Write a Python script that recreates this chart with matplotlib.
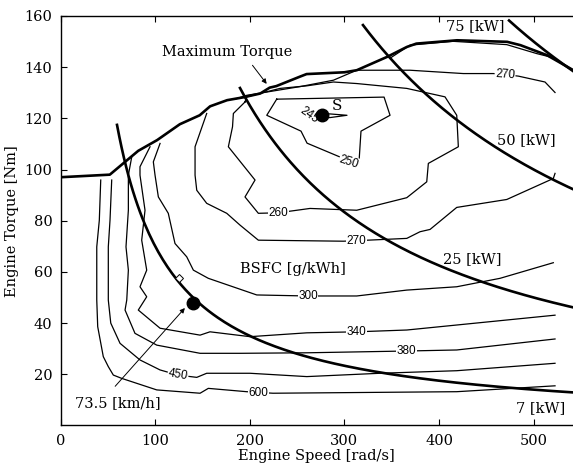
import matplotlib
matplotlib.use("Agg")
import matplotlib.pyplot as plt
import numpy as np

plt.rcParams['font.family'] = 'DejaVu Serif'
plt.rcParams['font.size'] = 10.5

# ============== DATA (speed in rad/s, torque in Nm) ==============

# maximum torque curve
maxT_w = [0, 52, 82, 102, 126, 147, 158, 176, 193, 211, 221, 228, 253, 260, 300, 313,
          345, 366, 376, 419, 472, 486, 514, 542]
maxT_T = [97, 98, 107.3, 111.5, 117.7, 121.2, 124.7, 127.1, 128.2, 129.7, 132.0, 132.6,
          136.3, 137.3, 138.0, 138.8, 144, 147.9, 149.2, 150.5, 149.9, 148.6, 144.7, 138.8]

# constant power lines: power [kW] and the speed where each line enters the plot
power_kW = [7, 25, 50, 75]
power_w_start = [59.6, 189.6, 319.6, 474]
power_labels = ['7 [kW]', '25 [kW]', '50 [kW]', '75 [kW]']
power_label_pos = [(507.8, 6.7), (434.6, 64.9), (492.7, 111.5), (438, 156)]

# BSFC contour lines [g/kWh]
c600_w = [42.4, 40.9, 38.2, 38.2, 39.2, 45.1, 50.4, 55.7, 64.6, 101.6, 147.4, 156.1, 196.7, 224.5, 418.7, 522.6]
c600_T = [95.9, 80.2, 69.8, 49, 38.6, 26.9, 23, 19.7, 18.4, 13.9, 12.6, 14.5, 13.2, 12.6, 13.2, 15.5]

c450_w = [54.0, 52.2, 50.4, 50.4, 53, 62.8, 83.9, 105.1, 124.1, 143.9, 154.4, 200.2, 260.2, 337.6, 418.7, 522.6]
c450_T = [95.9, 80.2, 69.8, 49, 40, 32.1, 25.6, 21.7, 19.7, 18.8, 20.4, 20.4, 19.1, 20.4, 21.4, 24.3]

c380_w = [75.2, 71.6, 71.6, 69.1, 71.6, 69.9, 68.1, 78.6, 101.6, 147.4, 189.6, 260.2, 365.9, 418.7, 522.6]
c380_T = [105, 97.8, 84.1, 69.8, 60.7, 49, 45.1, 36, 31.4, 28.2, 28.2, 28.4, 29.1, 29.5, 33.8]

c340_w = [94.5, 83.9, 83.9, 89.2, 85.7, 91, 83.9, 91, 82.1, 105.1, 147.4, 157.9, 200.2, 260.2, 313, 365.9, 522.6]
c340_T = [108.9, 101.1, 97.8, 84.1, 72.4, 60.7, 54.2, 50.3, 45.1, 38, 35.3, 36.6, 34.7, 36.2, 36.6, 37.3, 43.1]

c300_w = [105.1, 98, 99.8, 103.3, 113.8, 120.9, 133.3, 140.3, 156.1, 207.3, 260.2, 313, 365.9, 418.7, 464.5, 520.8]
c300_T = [110.2, 103, 97.8, 89.3, 82.9, 71.1, 65.9, 60.7, 57.5, 51, 50.6, 50.6, 52.9, 54.2, 57.5, 63.6]

c270a_w = [154.4, 142.1, 142.1, 143.9, 154.4, 175.6, 189.6, 209, 298.8, 313, 365.9, 379.9, 390.5, 418.7, 471.6, 520.8, 522.6]
c270a_T = [121.9, 108.9, 97.8, 91.9, 86.8, 82.9, 78.3, 72.4, 72, 72.2, 73.1, 75.7, 76.6, 85.2, 88.3, 96.5, 98.5]

c270b_w = [184.4, 196.7, 253.1, 288.3, 313, 369.3, 425.7, 457.4, 469.8, 483.8, 512, 522.6]
c270b_T = [127.5, 129, 132.4, 134.9, 138.8, 138.8, 137.5, 137.5, 137.1, 136.5, 134.2, 130.1]

c265_w = [348.2, 369.3, 414.8, 471.6, 503.3, 517.3]
c265_T = [143.5, 148.6, 150.1, 148.8, 145.3, 144]

c260_w = [194.9, 182.6, 181.7, 177.3, 205.5, 194.9, 209, 230.1, 263.6, 313, 365.9, 387, 388.7, 420.4,
          418.7, 406.3, 365.9, 313, 288.3, 260.2, 231.9, 196.7, 194.9]
c260_T = [126.4, 121.9, 116.7, 108.9, 95.9, 89.3, 82.9, 83.1, 84.8, 84.1, 89, 95.2, 102.4, 108.9,
          121.2, 128.4, 131.7, 133.6, 134.2, 132.7, 131.7, 128.4, 126.4]

c250_w = [228.4, 341.9, 348.2, 317.5, 315.4, 304.9, 295.3, 260.5, 254.1, 217.9, 228.4]
c250_T = [127.5, 128.3, 121.2, 115, 102.9, 102.9, 104.9, 110.3, 115, 121.2, 127.5]

c245_w = [258.3, 302.7, 284.8, 263.6, 258.3]
c245_T = [122.5, 121.2, 120.3, 120.1, 122.5]

contours = [(c600_w, c600_T), (c450_w, c450_T), (c380_w, c380_T), (c340_w, c340_T),
            (c300_w, c300_T), (c270a_w, c270a_T), (c270b_w, c270b_T), (c265_w, c265_T),
            (c260_w, c260_T), (c250_w, c250_T), (c245_w, c245_T)]

# contour labels: text, speed, torque, rotation
clabels = [('600', 208.7, 12.8, 0), ('450', 124.1, 19.9, -10), ('380', 365.9, 29.1, 0),
           ('340', 313, 36.6, 0), ('300', 261.5, 50.6, 0), ('270', 313, 72.2, 0),
           ('270', 469.8, 137.2, -4), ('260', 230.1, 83.1, 0), ('250', 304.9, 102.9, -18),
           ('245', 262.5, 121.3, -35)]

# operating points
S_point = (276, 121.2)
cruise_point = (139.6, 47.9)
diamond_point = (125.5, 57.5)

# ============== PLOT ==============

fig = plt.figure(figsize=(5.73, 4.67), dpi=100)
ax = fig.add_axes([0.1058, 0.0889, 0.8942, 0.8769])

for cw, cT in contours:
    ax.plot(cw, cT, color='k', lw=0.9, zorder=2)

for txt, lw_, lT, rot in clabels:
    ax.text(lw_, lT, txt, family='Liberation Sans', fontsize=8.5, ha='center', va='center',
            rotation=rot, zorder=3,
            bbox=dict(fc='white', ec='none', pad=0.4))

ax.plot(maxT_w, maxT_T, color='k', lw=1.9, zorder=4)

xmax = 541.6
for P, w0, lab, pos in zip(power_kW, power_w_start, power_labels, power_label_pos):
    w = np.linspace(w0, xmax, 200)
    # constant power line: torque = power / speed
    ax.plot(w, P * 1000 / w, color='k', lw=1.9, zorder=4)
    ax.text(pos[0], pos[1], lab, ha='center', va='center')

ax.plot(*S_point, 'o', color='k', ms=9, zorder=5)
ax.text(291.9, 125, 'S', ha='center', va='center', fontsize=11)
ax.plot(*cruise_point, 'o', color='k', ms=9, zorder=5)
ax.plot(*diamond_point, 'D', mfc='white', mec='k', ms=4, mew=0.7, zorder=5)

ax.annotate('', xy=(219.6, 132.6), xytext=(201, 141.6),
            arrowprops=dict(arrowstyle='-|>', color='k', lw=0.7, mutation_scale=7))
ax.text(176.4, 145.8, 'Maximum Torque', ha='center', va='center')

ax.annotate('', xy=(133.3, 46.7), xytext=(55.7, 14.5),
            arrowprops=dict(arrowstyle='-|>', color='k', lw=0.7, mutation_scale=7))
ax.text(60.7, 8.7, '73.5 [km/h]', ha='center', va='center')

ax.text(246, 61, 'BSFC [g/kWh]', ha='center', va='center')

ax.set_xlim(0, xmax)
ax.set_ylim(0, 160)
ax.set_xticks([0, 100, 200, 300, 400, 500])
ax.set_yticks([20, 40, 60, 80, 100, 120, 140, 160])
ax.tick_params(direction='in', top=True, right=False, length=4, width=0.8, pad=6)
ax.spines['right'].set_visible(False)
for s in ['left', 'bottom', 'top']:
    ax.spines[s].set_linewidth(1.0)

ax.set_xlabel('Engine Speed [rad/s]', labelpad=1)
ax.set_ylabel('Engine Torque [Nm]', labelpad=4)

fig.savefig('out.png', dpi=100)
